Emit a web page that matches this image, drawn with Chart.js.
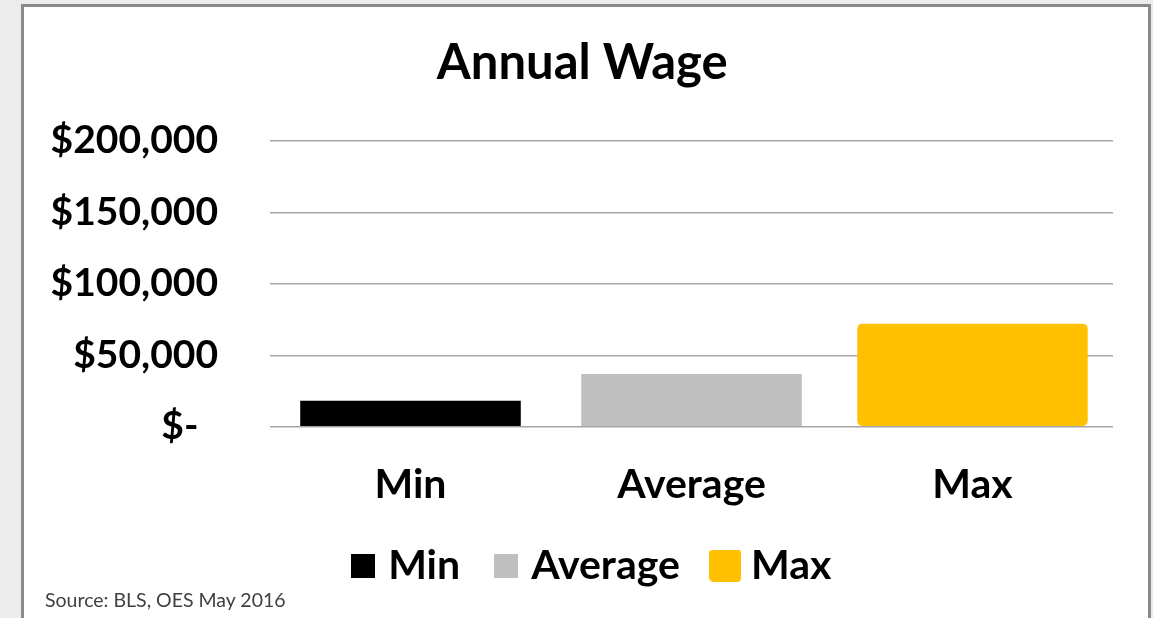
<!DOCTYPE html>
<html>
<head>
<meta charset="utf-8">
<script src="https://cdn.jsdelivr.net/npm/chart.js@4/dist/chart.umd.min.js"></script>
<style>
  html, body { margin: 0; padding: 0; background: #ececec; overflow: hidden; width: 1153px; height: 618px; }
  #frame { position: absolute; left: 21px; top: 4px; width: 1124px; height: 640px; background: #fff; border: 3px solid #8a8a8a; }
  #wrap { position: absolute; left: 0; top: 0; width: 1124px; height: 611px; }
  #source { position: absolute; left: 21px; top: 581px; font-family: Lato, sans-serif; font-size: 19.5px; color: #404040; }
</style>
</head>
<body>
<div id="frame">
  <div id="wrap"><canvas id="c"></canvas></div>
  <div id="source">Source: BLS, OES May 2016</div>
</div>
<script>
const categories = ['Min', 'Average', 'Max'];
const wages = [18200, 37000, 72000];
const yTicks = [0, 50000, 100000, 150000, 200000];
const seriesColors = ['#000000', '#bfbfbf', '#ffc000'];

const FONT = 'Lato, "Open Sans", sans-serif';

const datasets = categories.map((name, i) => ({
  label: name,
  data: categories.map((_, j) => (j === i ? wages[i] : null)),
  backgroundColor: seriesColors[i],
  borderWidth: 0,
  borderRadius: i === 2 ? 5 : 0,
  borderSkipped: false,
  barPercentage: i === 2 ? 0.82 : 0.785,
  categoryPercentage: 1.0,
  yAxisID: 'y'
}));

function fmt(v) {
  if (v === 0) return '$-\u2002';
  return '$' + v.toLocaleString('en-US');
}

function swatch(color, size, radius) {
  const c = document.createElement('canvas');
  c.width = size; c.height = size;
  const g = c.getContext('2d');
  g.fillStyle = color;
  g.beginPath();
  if (radius) { g.roundRect(0, 0, size, size, radius); } else { g.rect(0, 0, size, size); }
  g.fill();
  return c;
}
const swatches = [swatch(seriesColors[0], 24, 0), swatch(seriesColors[1], 24, 0), swatch(seriesColors[2], 32, 4)];
const legendGaps = ['\u2003\u2006', '\u2003\u2006', ''];

new Chart(document.getElementById('c'), {
  type: 'bar',
  data: { labels: categories, datasets },
  options: {
    responsive: true,
    maintainAspectRatio: false,
    animation: false,
    grouped: false,
    layout: { padding: { left: 17, right: 0, top: 0, bottom: 22 } },
    plugins: {
      title: {
        display: true,
        text: 'Annual Wage\u2002',
        color: '#000',
        font: { family: FONT, size: 49, weight: 'bold', lineHeight: 1.2 },
        padding: { top: 27, bottom: 48 }
      },
      legend: {
        position: 'bottom',
        labels: {
          color: '#000',
          font: { family: FONT, size: 41, weight: 'bold' },
          boxWidth: 24,
          boxHeight: 24,
          usePointStyle: true,
          pointStyleWidth: 10,
          padding: 3,
          generateLabels: (chart) => {
            const items = Chart.defaults.plugins.legend.labels.generateLabels(chart);
            items.forEach((it, i) => {
              it.pointStyle = swatches[i];
              it.text = it.text + legendGaps[i];
            });
            return items;
          }
        }
      },
      tooltip: { enabled: false }
    },
    scales: {
      x: {
        grid: { display: false, drawTicks: false },
        border: { display: false },
        ticks: { color: '#000', font: { family: FONT, size: 41, weight: 'bold' }, padding: 33 }
      },
      y: {
        position: 'left',
        min: yTicks[0],
        max: yTicks[yTicks.length - 1],
        afterBuildTicks: (s) => { s.ticks = yTicks.map(v => ({ value: v })); },
        afterFit: (s) => { s.width = 229; },
        grid: { color: '#a6a6a6', lineWidth: 1.5, drawTicks: false },
        border: { display: false },
        ticks: { color: '#000', font: { family: FONT, size: 39, weight: 'bold' }, padding: 52, callback: (v) => fmt(v) }
      },
      yRight: {
        position: 'right',
        display: true,
        min: yTicks[0],
        max: yTicks[yTicks.length - 1],
        afterFit: (s) => { s.width = 35; },
        grid: { display: false, drawTicks: false },
        border: { display: false },
        ticks: { display: false }
      }
    }
  }
});
</script>
</body>
</html>
